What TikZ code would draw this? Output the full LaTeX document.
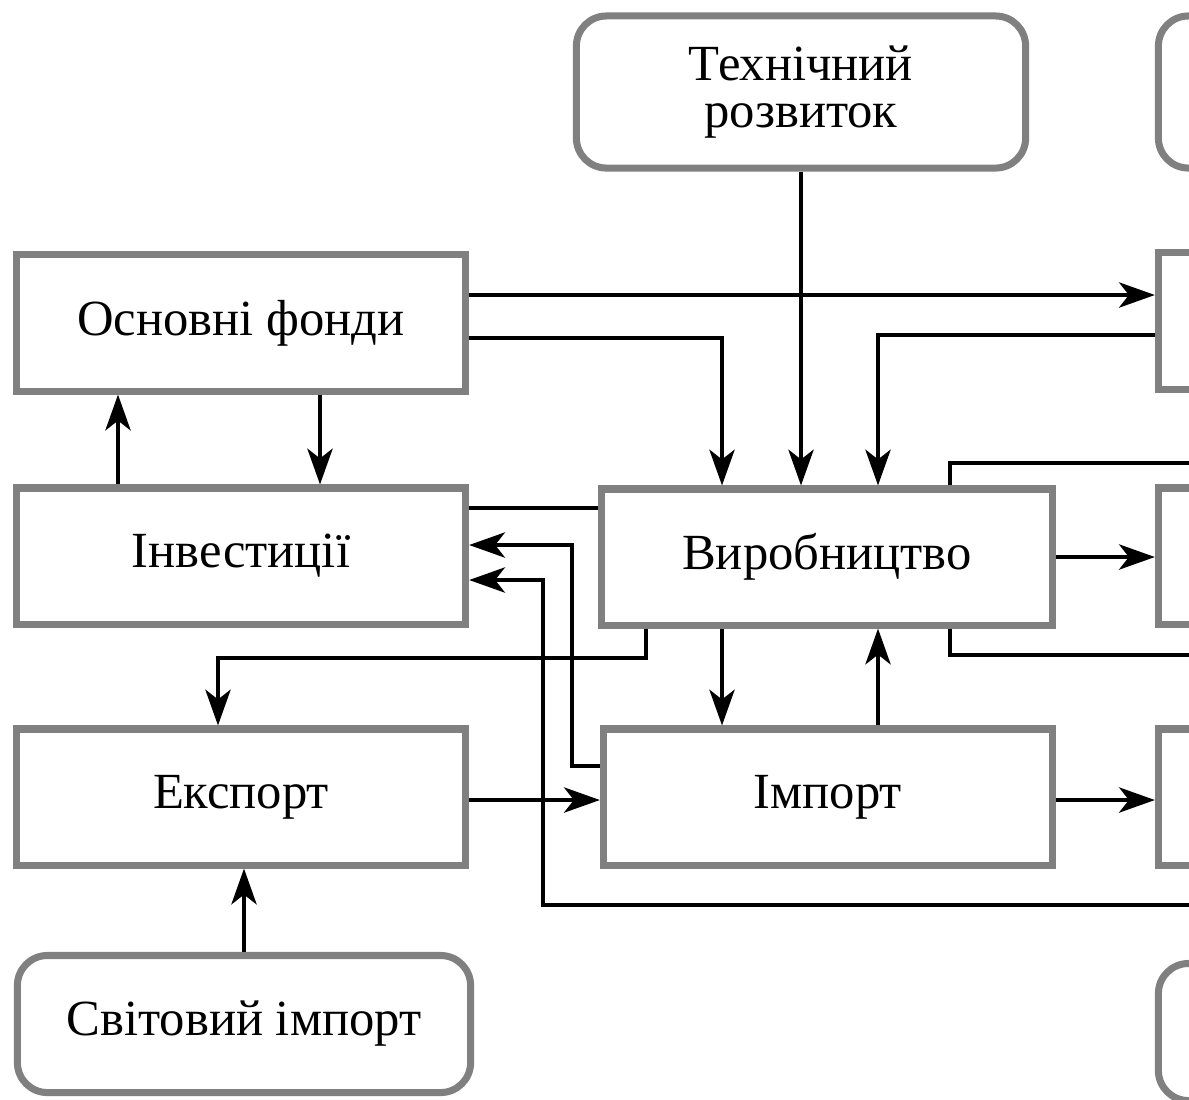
\documentclass[tikz,border=0pt]{standalone}
\usepackage{fontspec}
\setmainfont{Liberation Serif}
\usetikzlibrary{arrows.meta}
\begin{document}
\begin{tikzpicture}[x=0.01cm, y=-0.01cm,
  font=\fontsize{14.4pt}{13.6pt}\selectfont,
  >={Stealth[length=10.2pt,width=7.2pt,inset=2.8pt]},
  blk/.style={draw=gray, line width=2pt, fill=white, align=center,
    minimum width=4.49cm, minimum height=1.36cm, inner sep=0pt},
  rblk/.style={blk, rounded corners=0.3cm, minimum height=1.52cm},
  lnk/.style={line width=1pt}]
  \useasboundingbox (0,0) rectangle (1189,1099);
  \clip (0,0) rectangle (1189,1099);

  % блоки
  \node[rblk] (tech) at (801,92) {Технічний\\розвиток};
  \node[blk] (fondy) at (241,323) {Основні фонди};
  \node[blk] (invest) at (241,556) {Інвестиції};
  \node[blk, minimum width=4.51cm] (vyrob) at (827,557) {Виробництво};
  \node[blk] (eksport) at (241,797) {Експорт};
  \node[blk] (import) at (828,797) {Імпорт};
  \node[rblk, minimum width=4.53cm, minimum height=1.37cm] (svit) at (244,1024) {Світовий імпорт};

  % праві блоки (обрізані)
  \node[rblk, minimum width=4.51cm] (r1) at (1384,92) {};
  \node[blk, minimum width=4.51cm] (r2) at (1384,321) {};
  \node[blk, minimum width=4.51cm] (r3) at (1384,556) {};
  \node[blk, minimum width=4.51cm] (r4) at (1384,797) {};
  \node[rblk, minimum width=4.51cm, minimum height=1.37cm] (r5) at (1384,1032) {};
  \coordinate (outA) at (1250,463);
  \coordinate (outB) at (1250,655);
  \coordinate (outC) at (1250,905);

  % зв'язки
  \draw[lnk, ->] (tech.south) -- (tech.south |- vyrob.north);
  \draw[lnk, ->] (fondy.east |- 0,295) -- (r2.west |- 0,295);
  \draw[lnk, ->] (fondy.east |- 0,338) -| (722,0 |- vyrob.north);
  \draw[lnk, ->] (r2.west |- 0,335) -| (878,0 |- vyrob.north);
  \draw[lnk, ->] (118,0 |- invest.north) -- (118,0 |- fondy.south);
  \draw[lnk, ->] (320,0 |- fondy.south) -- (320,0 |- invest.north);
  \draw[lnk] (vyrob.west |- 0,508) -- (invest.east |- 0,508);
  \draw[lnk, ->] (import.west |- 0,766) -| (572,545) -- (invest.east |- 0,545);
  \draw[lnk, ->] (outC) -| (543,580) -- (invest.east |- 0,580);
  \draw[lnk, ->] (646,0 |- vyrob.south) |- (218,658) -- (218,0 |- eksport.north);
  \draw[lnk, ->] (722,0 |- vyrob.south) -- (722,0 |- import.north);
  \draw[lnk, ->] (878,0 |- import.north) -- (878,0 |- vyrob.south);
  \draw[lnk, ->] (eksport.east |- 0,800) -- (import.west |- 0,800);
  \draw[lnk, ->] (svit.north) -- (svit.north |- eksport.south);
  \draw[lnk, ->] (vyrob.east) -- (r3.west |- vyrob.east);
  \draw[lnk, ->] (import.east |- 0,800) -- (r4.west |- 0,800);
  \draw[lnk] (950,0 |- vyrob.north) |- (outA);
  \draw[lnk] (950,0 |- vyrob.south) |- (outB);
\end{tikzpicture}
\end{document}
